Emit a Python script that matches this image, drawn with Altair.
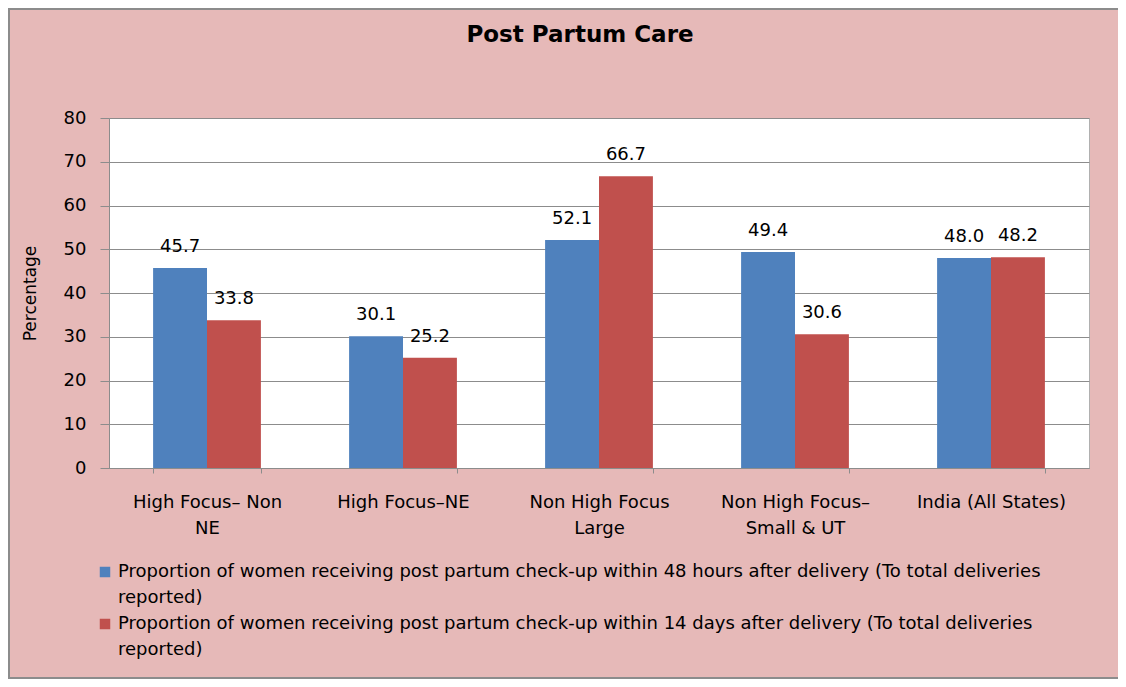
import altair as alt
import pandas as pd

categories = ["High Focus– Non NE", "High Focus–NE", "Non High Focus Large",
              "Non High Focus–Small & UT", "India (All States)"]
category_lines = [["High Focus– Non", "NE"], ["High Focus–NE"], ["Non High Focus", "Large"],
                  ["Non High Focus–", "Small & UT"], ["India (All States)"]]
series = [
    "Proportion of women receiving post partum check-up within 48 hours after delivery (To total deliveries reported)",
    "Proportion of women receiving post partum check-up within 14 days after delivery (To total deliveries reported)",
]
series_lines = [
    ["Proportion of women receiving post partum check-up within 48 hours after delivery (To total deliveries", "reported)"],
    ["Proportion of women receiving post partum check-up within 14 days after delivery (To total deliveries", "reported)"],
]
within_48h = [45.7, 30.1, 52.1, 49.4, 48.0]
within_14d = [33.8, 25.2, 66.7, 30.6, 48.2]
colors = ["#4F81BD", "#C0504D"]

rows = []
for i, c in enumerate(categories):
    rows.append({"category": c, "series": series[0], "value": within_48h[i]})
    rows.append({"category": c, "series": series[1], "value": within_14d[i]})
df = pd.DataFrame(rows)

def expr_map(keys, lines):
    parts = []
    for k, ls in zip(keys, lines):
        arr = "[" + ",".join("'" + l.replace("'", "\\'") + "'" for l in ls) + "]"
        parts.append(f"datum.label == '{k}' ? {arr} : ")
    return "".join(parts) + "datum.label"

FONT = "DejaVu Sans"

x = alt.X("category:N", sort=categories, title=None,
          scale=alt.Scale(paddingInner=0.45, paddingOuter=0.225),
          axis=alt.Axis(labelAngle=0, labelExpr=expr_map(categories, category_lines),
                        tickBand="extent", tickSize=5, labelPadding=20,
                        labelFontSize=18, labelFont=FONT, labelColor="#000000",
                        labelLineHeight=26,
                        domainColor="#8c8c8c", tickColor="#8c8c8c", labelLimit=300))
xo = alt.XOffset("series:N", sort=series, scale=alt.Scale(paddingInner=0, paddingOuter=0))
y = alt.Y("value:Q", title="Percentage",
          scale=alt.Scale(domain=[0, 80], nice=False),
          axis=alt.Axis(values=list(range(0, 81, 10)), grid=True, gridColor="#8c8c8c",
                        domainColor="#8c8c8c", tickColor="#8c8c8c", tickSize=9,
                        labelPadding=14, labelFontSize=18, labelFont=FONT, labelColor="#000000",
                        titleFont=FONT, titleFontSize=17, titleFontWeight="normal",
                        titleColor="#000000", titlePadding=24))

base = alt.Chart(df)
bars = base.mark_bar().encode(
    x=x, xOffset=xo, y=y,
    color=alt.Color("series:N", sort=series, scale=alt.Scale(domain=series, range=colors),
                    legend=alt.Legend(title=None, orient="none", legendX=-13, legendY=445,
                                      direction="vertical", symbolType="square", symbolSize=110,
                                      symbolStrokeWidth=0, labelFont=FONT, labelFontSize=18,
                                      labelColor="#000000", labelLimit=1000, rowPadding=8,
                                      labelExpr=expr_map(series, series_lines))),
)
labels = base.mark_text(baseline="bottom", dy=-12, font=FONT, fontSize=18, color="#000000").encode(
    x=x, xOffset=xo, y=y, text=alt.Text("value:Q", format=".1f"))

frame = alt.Chart(pd.DataFrame({"a": [0]})).mark_rect(
    fill="transparent", stroke="#8c8c8c", strokeWidth=2).encode(
    x=alt.value(-100), x2=alt.value(1028), y=alt.value(-109), y2=alt.value(560))

chart = alt.layer(frame, bars, labels).properties(
    width=980, height=350,
    title=alt.TitleParams("Post Partum Care", font=FONT, fontSize=23, fontWeight="bold",
                          color="#000000", anchor="middle", frame="group", offset=-39, dx=-19),
    autosize=alt.AutoSizeParams(type="none"),
    padding={"left": 101, "top": 110, "right": 29, "bottom": 211},
    background="#E6B9B8",
).configure(
    view={"stroke": "#b0b0b0", "fill": "#FFFFFF"},
    style={"guide-label": {"lineHeight": 26}},
)

chart.save("out.html", embed_options={"renderer": "svg", "actions": False})
